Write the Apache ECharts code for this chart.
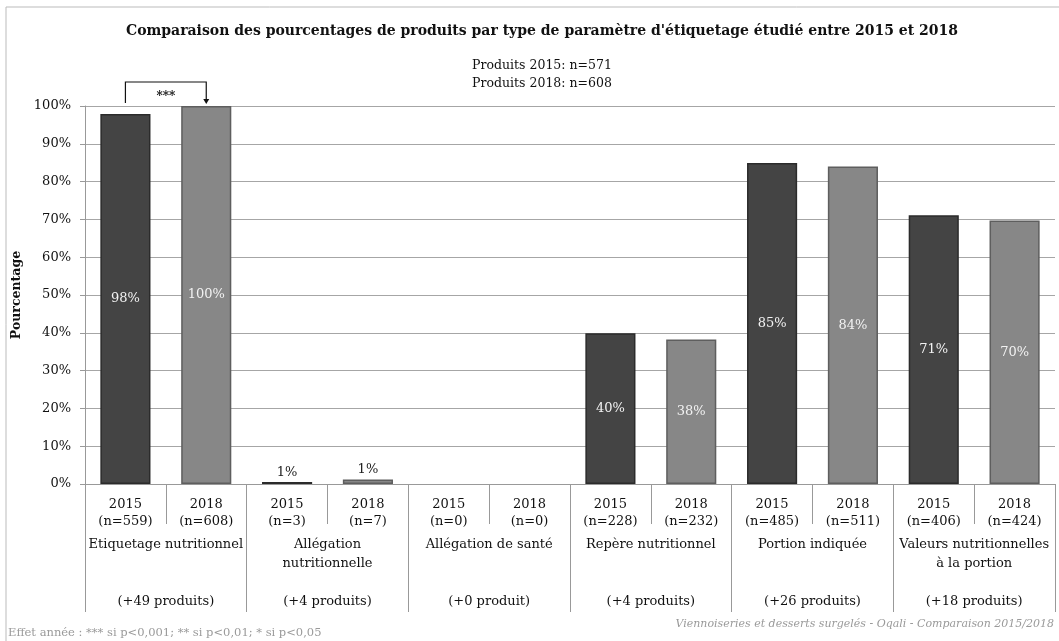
<!DOCTYPE html>
<html>
<head>
<meta charset="utf-8">
<script src="https://cdn.jsdelivr.net/npm/echarts@6/dist/echarts.min.js"></script>
<style>
  html, body { margin: 0; padding: 0; background: #fff; }
  #chart { width: 1059px; height: 641px; }
</style>
</head>
<body>
<div id="chart"></div>
<script>
var years = ['2015', '2018', '2015', '2018', '2015', '2018', '2015', '2018', '2015', '2018', '2015', '2018'];
var counts = [559, 608, 3, 7, 0, 0, 228, 232, 485, 511, 406, 424];
var percents = [97.9, 100, 0.5, 1.2, 0, 0, 39.9, 38.2, 84.9, 84.0, 71.1, 69.7];
var groups = ['Etiquetage nutritionnel', 'Allégation\nnutritionnelle', 'Allégation de santé',
  'Repère nutritionnel', 'Portion indiquée', 'Valeurs nutritionnelles\nà la portion'];
var gains = ['(+49 produits)', '(+4 produits)', '(+0 produit)', '(+4 produits)', '(+26 produits)', '(+18 produits)'];
var yTicks = [0, 10, 20, 30, 40, 50, 60, 70, 80, 90, 100];

var serif = 'DejaVu Serif';
var myChart = echarts.init(document.getElementById('chart'));

var xLabels = years.map(function(y, i) { return y + '\n(n=' + counts[i] + ')'; });
var groupLabels = groups.map(function(g, i) {
  var lines = g.split('\n');
  while (lines.length < 3) lines.push('');
  return lines.join('\n') + '\n' + gains[i];
});

var barData = percents.map(function(v, i) {
  var dark = i % 2 === 0;
  return {
    value: v,
    itemStyle: {
      color: dark ? '#444444' : '#878787',
      borderColor: dark ? '#2b2b2b' : '#5e5e5e',
      borderWidth: v > 0 ? 1.5 : 0
    },
    label: {
      show: v > 0,
      position: v >= 5 ? 'inside' : 'top',
      color: v >= 5 ? '#f2f2f2' : '#222',
      distance: 3
    }
  };
});

var option = {
  animation: false,
  title: [{
    text: "Comparaison des pourcentages de produits par type de paramètre d'étiquetage étudié entre 2015 et 2018",
    left: 537, top: 19, textAlign: 'center',
    textStyle: { fontFamily: serif, fontWeight: 'bold', fontSize: 14, color: '#111' }
  }, {
    text: 'Produits 2015: n=571\nProduits 2018: n=608',
    left: 537, top: 52, textAlign: 'center',
    textStyle: { fontFamily: serif, fontWeight: 'normal', fontSize: 12.5, lineHeight: 18, color: '#111' }
  }],
  grid: { left: 85, right: 4, top: 106, bottom: 157 },
  xAxis: [{
    type: 'category',
    data: xLabels,
    axisLine: { lineStyle: { color: '#999' } },
    axisTick: { show: true, interval: 0, length: 40, lineStyle: { color: '#999' } },
    axisLabel: { interval: 0, margin: 12, fontFamily: serif, fontSize: 13, lineHeight: 17, color: '#111' }
  }, {
    type: 'category',
    position: 'bottom',
    data: groupLabels,
    axisLine: { show: false },
    axisTick: { show: true, interval: 0, length: 128, lineStyle: { color: '#999' } },
    axisLabel: { interval: 0, margin: 51, fontFamily: serif, fontSize: 13, lineHeight: 19, color: '#111' }
  }],
  yAxis: {
    type: 'value',
    min: 0, max: 100, interval: 10,
    name: 'Pourcentage',
    nameLocation: 'middle',
    nameGap: 62,
    nameTextStyle: { fontFamily: serif, fontWeight: 'bold', fontSize: 12.5, color: '#111' },
    axisLine: { show: true, lineStyle: { color: '#999' } },
    axisTick: { show: true, length: 5, lineStyle: { color: '#999' } },
    splitLine: { lineStyle: { color: '#a6a6a6' } },
    axisLabel: {
      fontFamily: serif, fontSize: 13, color: '#111', margin: 14,
      formatter: function(v) { return yTicks.indexOf(v) >= 0 ? v + '%' : ''; }
    }
  },
  series: [{
    type: 'bar',
    data: barData,
    barWidth: '62%',
    label: {
      fontFamily: serif, fontSize: 13,
      formatter: function(p) { return Math.round(p.value) + '%'; }
    }
  }]
};
myChart.setOption(option);

// significance bracket between the first pair of bars
var p0 = myChart.convertToPixel({ xAxisIndex: 0, yAxisIndex: 0 }, [0, percents[0]]);
var p1 = myChart.convertToPixel({ xAxisIndex: 0, yAxisIndex: 0 }, [1, percents[1]]);
var topY = p1[1] - 24;
myChart.setOption({
  graphic: [{
    type: 'rect', shape: { x: 6, y: 7, width: 1060, height: 640 },
    style: { fill: 'none', stroke: '#bbb', lineWidth: 1 }, silent: true, z: -1
  }, {
    type: 'polyline',
    shape: { points: [[p0[0], p1[1] - 3], [p0[0], topY], [p1[0], topY], [p1[0], p1[1] - 6]] },
    style: { stroke: '#111', lineWidth: 1.2, fill: 'none' }
  }, {
    type: 'polygon',
    shape: { points: [[p1[0] - 3, p1[1] - 7], [p1[0] + 3, p1[1] - 7], [p1[0], p1[1] - 2]] },
    style: { fill: '#111' }
  }, {
    type: 'text', x: (p0[0] + p1[0]) / 2, y: topY + 9,
    style: { text: '***', fontFamily: serif, fontWeight: 'bold', fontSize: 12, fill: '#111', align: 'center' }
  }, {
    type: 'text', left: 8, top: 627,
    style: { text: 'Effet année : *** si p<0,001; ** si p<0,01; * si p<0,05', fontFamily: serif, fontSize: 11.5, fill: '#9a9a9a' }
  }, {
    type: 'text', right: 5, top: 619,
    style: { text: 'Viennoiseries et desserts surgelés - Oqali - Comparaison 2015/2018', fontFamily: serif, fontStyle: 'italic', fontSize: 11, fill: '#9a9a9a' }
  }]
});
</script>
</body>
</html>
